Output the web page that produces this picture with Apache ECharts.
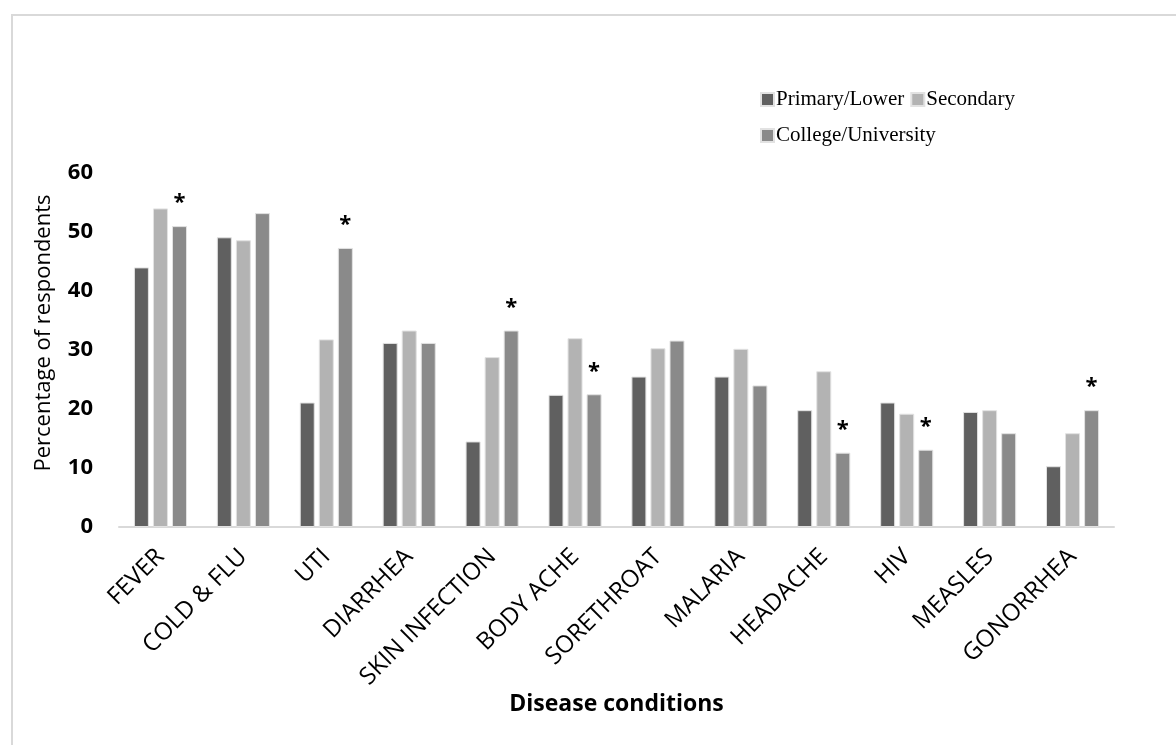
<!DOCTYPE html>
<html>
<head>
<meta charset="utf-8">
<script src="https://cdn.jsdelivr.net/npm/echarts@6/dist/echarts.min.js"></script>
<style>
    html, body { margin: 0; padding: 0; background: #fff; }
    #chart { width: 1176px; height: 745px; }
</style>
</head>
<body>
<div id="chart"></div>
<script>
// categories along the x axis
var categories = ["FEVER", "COLD & FLU", "UTI", "DIARRHEA", "SKIN INFECTION", "BODY ACHE",
    "SORETHROAT", "MALARIA", "HEADACHE", "HIV", "MEASLES", "GONORRHEA"];

// percentage of respondents per education level
var primaryLower = [44.0, 49.1, 21.1, 31.2, 14.5, 22.4, 25.5, 25.5, 19.8, 21.1, 19.5, 10.3];
var secondary = [54.0, 48.6, 31.8, 33.3, 28.8, 32.0, 30.3, 30.2, 26.4, 19.2, 19.8, 15.9];
var collegeUniversity = [51.0, 53.2, 47.3, 31.2, 33.3, 22.5, 31.6, 24.0, 12.6, 13.1, 15.9, 19.8];

// significance marks (*) drawn above the College/University bar
var significant = [1, 0, 1, 0, 1, 1, 0, 0, 1, 1, 0, 1];

var yTicks = [0, 10, 20, 30, 40, 50, 60];

var sansFont = "'Open Sans', 'Noto Sans', sans-serif";
var serifFont = "'Liberation Serif', 'DejaVu Serif', serif";

var chart = echarts.init(document.getElementById("chart"));

function barSeries(name, data, color) {
    return {
        name: name,
        type: "bar",
        data: data,
        barWidth: 15,
        barGap: "27%",
        itemStyle: { color: color, borderColor: "#e2e2e2", borderWidth: 1 }
    };
}

var college = barSeries("College/University", collegeUniversity, "#8a8a8a");
college.label = {
    show: true,
    position: "top",
    distance: 12,
    color: "#000",
    fontFamily: sansFont,
    fontWeight: "bold",
    fontSize: 22,
    formatter: function (p) { return significant[p.dataIndex] ? "*" : ""; }
};

var legendText = { fontFamily: serifFont, fontSize: 21, color: "#000", padding: [0, 0, 0, -3] };

var option = {
    animation: false,
    backgroundColor: "#fff",
    graphic: [{
        type: "rect",
        shape: { x: 12, y: 15, width: 1200, height: 800 },
        style: { fill: "none", stroke: "#d9d9d9", lineWidth: 2 },
        silent: true
    }],
    legend: [{
        data: ["Primary/Lower", "Secondary"],
        left: 755,
        top: 84,
        itemWidth: 13,
        itemHeight: 13,
        itemGap: 6,
        icon: "rect",
        textStyle: legendText
    }, {
        data: ["College/University"],
        left: 755,
        top: 120,
        itemWidth: 13,
        itemHeight: 13,
        icon: "rect",
        textStyle: legendText
    }],
    grid: { left: 119, right: 62, top: 173, bottom: 218, containLabel: false },
    xAxis: {
        type: "category",
        data: categories,
        name: "Disease conditions",
        nameLocation: "middle",
        nameGap: 162,
        nameTextStyle: { fontFamily: sansFont, fontWeight: "bold", fontSize: 23, color: "#000" },
        axisLine: { lineStyle: { color: "#d9d9d9", width: 2 } },
        axisTick: { show: false },
        axisLabel: {
            interval: 0,
            rotate: 45,
            margin: 26,
            fontFamily: sansFont,
            fontSize: 24,
            color: "#000"
        }
    },
    yAxis: {
        type: "value",
        min: yTicks[0],
        max: yTicks[yTicks.length - 1],
        interval: 10,
        name: "Percentage of respondents",
        nameLocation: "middle",
        nameGap: 64,
        nameTextStyle: { fontFamily: sansFont, fontSize: 22, color: "#000", padding: [0, 0, 0, 34] },
        axisLine: { show: false },
        axisTick: { show: false },
        splitLine: { show: false },
        axisLabel: {
            margin: 26,
            fontFamily: sansFont,
            fontWeight: "bold",
            fontSize: 22,
            color: "#000"
        }
    },
    series: [
        barSeries("Primary/Lower", primaryLower, "#606060"),
        barSeries("Secondary", secondary, "#b3b3b3"),
        college
    ]
};

chart.setOption(option);
</script>
</body>
</html>
